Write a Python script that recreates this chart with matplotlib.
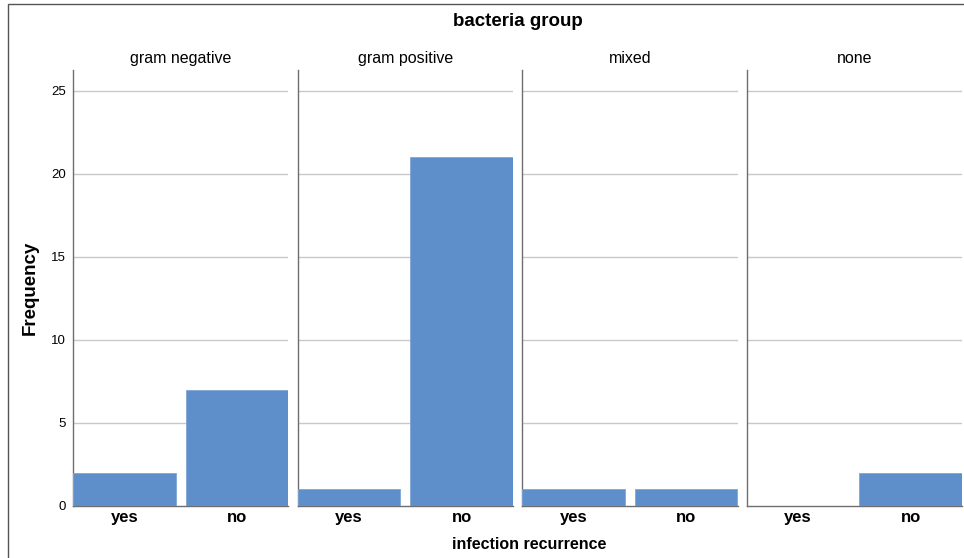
import matplotlib
matplotlib.use("Agg")
import matplotlib.pyplot as plt
from matplotlib.patches import Rectangle

# data
groups = ["gram negative", "gram positive", "mixed", "none"]
categories = ["yes", "no"]
freq_yes = [2, 1, 1, 0]
freq_no = [7, 21, 1, 2]
y_ticks = [0, 5, 10, 15, 20, 25]

bar_color = "#5f8fca"
grid_color = "#c8c8c8"
spine_color = "#6e6e6e"

plt.rcParams["font.family"] = ["Liberation Sans", "DejaVu Sans"]

fig, axes = plt.subplots(1, 4, figsize=(9.64, 5.58), dpi=100, sharey=True)
fig.subplots_adjust(left=0.0757, right=0.998, bottom=0.0932, top=0.8746, wspace=0.042)

for i, ax in enumerate(axes):
    vals = [freq_yes[i], freq_no[i]]
    ax.bar(range(len(categories)), vals, width=0.91, color=bar_color,
           edgecolor="#7ea6d8", linewidth=0.6, zorder=3)
    ax.set_xlim(-0.456, 1.456)
    ax.set_ylim(0, 26.26)
    ax.set_yticks(y_ticks)
    for t in y_ticks[1:]:
        ax.axhline(t, color=grid_color, linewidth=1.0, zorder=1)
    ax.set_xticks(range(len(categories)))
    ax.set_xticklabels(categories, fontsize=12, fontweight="bold")
    ax.tick_params(axis="both", length=0, pad=3)
    ax.tick_params(axis="y", labelsize=9.5, pad=5)
    for side in ["top", "right"]:
        ax.spines[side].set_visible(False)
    ax.spines["left"].set_color(spine_color)
    ax.spines["bottom"].set_color(spine_color)
    ax.spines["left"].set_linewidth(1.0)
    ax.spines["bottom"].set_linewidth(1.0)
    ax.set_title(groups[i], fontsize=11.5, pad=5)

axes[0].set_ylabel("Frequency", fontsize=13.5, fontweight="bold", labelpad=9)
fig.text(0.549, 0.025, "infection recurrence", ha="center", va="center",
         fontsize=11.5, fontweight="bold")
fig.text(0.5373, 0.962, "bacteria group", ha="center", va="center",
         fontsize=13.5, fontweight="bold")

# outer frame
fig.patches.append(Rectangle((8 / 964, -0.05), 1.1, 1 - 4 / 558 + 0.05,
                             transform=fig.transFigure, fill=False,
                             edgecolor="#555555", linewidth=1.0))

fig.savefig("out.png", dpi=100)
